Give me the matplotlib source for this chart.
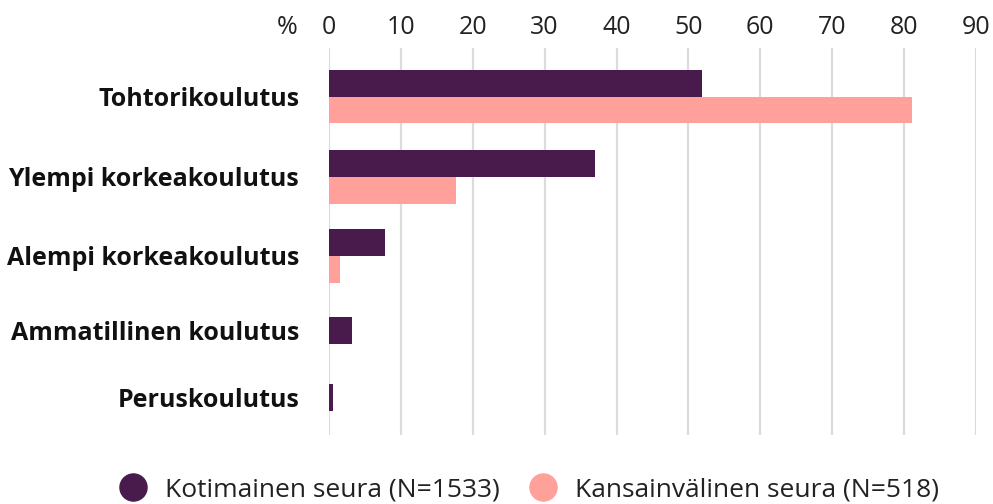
import matplotlib
matplotlib.use('Agg')
import matplotlib.pyplot as plt
from matplotlib.lines import Line2D

plt.rcParams['font.family'] = ['Open Sans', 'DejaVu Sans']

# Data
categories = ['Tohtorikoulutus', 'Ylempi korkeakoulutus', 'Alempi korkeakoulutus',
              'Ammatillinen koulutus', 'Peruskoulutus']
kotimainen = [51.9, 37.0, 7.8, 3.2, 0.6]
kansainvalinen = [81.1, 17.7, 1.5, 0, 0]
series_names = ['Kotimainen seura (N=1533)', 'Kansainvälinen seura (N=518)']
xticks = [0, 10, 20, 30, 40, 50, 60, 70, 80, 90]

col_dark = '#491a4c'
col_pink = '#ffa09b'

# layout (pixel rows, axis is in pixel units vertically)
W, H = 993, 504
row_centers = [96.7, 176.8, 255.8, 330.3, 397.3]
bar_h = 26.7

fig = plt.figure(figsize=(W / 100, H / 100), dpi=100)
ax = fig.add_axes([329 / W, 1 - 435 / H, (976 - 329) / W, (435 - 48) / H])

for yc, k, p in zip(row_centers, kotimainen, kansainvalinen):
    if p > 0:
        ax.barh(yc - bar_h / 2, k, height=bar_h, color=col_dark, zorder=3)
        ax.barh(yc + bar_h / 2, p, height=bar_h, color=col_pink, zorder=3)
    else:
        ax.barh(yc, k, height=bar_h, color=col_dark, zorder=3)

ax.set_xlim(0, 90)
ax.set_ylim(435, 48)
ax.set_xticks(xticks)
ax.xaxis.tick_top()
ax.tick_params(axis='x', length=0, pad=6, labelsize=18, labelcolor='#222222')
ax.set_yticks(row_centers)
ax.set_yticklabels(categories, fontweight='bold', fontsize=18, color='#111111')
ax.tick_params(axis='y', length=0, pad=21.5)
for s in ax.spines.values():
    s.set_visible(False)
ax.grid(True, axis='x', color='#dcdcdc', linewidth=1.6, zorder=0)
ax.grid(False, axis='y')

fig.text(298 / W, 1 - 27 / H, '%', ha='right', va='center', fontsize=18, color='#222222')

handles = [Line2D([], [], linestyle='none', marker='o', markersize=19.5, color=c)
           for c in (col_dark, col_pink)]
fig.legend(handles, series_names, loc='center', bbox_to_anchor=(529.5 / W, 1 - 490 / H),
           ncol=2, frameon=False, fontsize=19, handlelength=1.0, handletextpad=0.72,
           columnspacing=1.14, labelcolor='#222222')

fig.savefig('out.png', dpi=100)
